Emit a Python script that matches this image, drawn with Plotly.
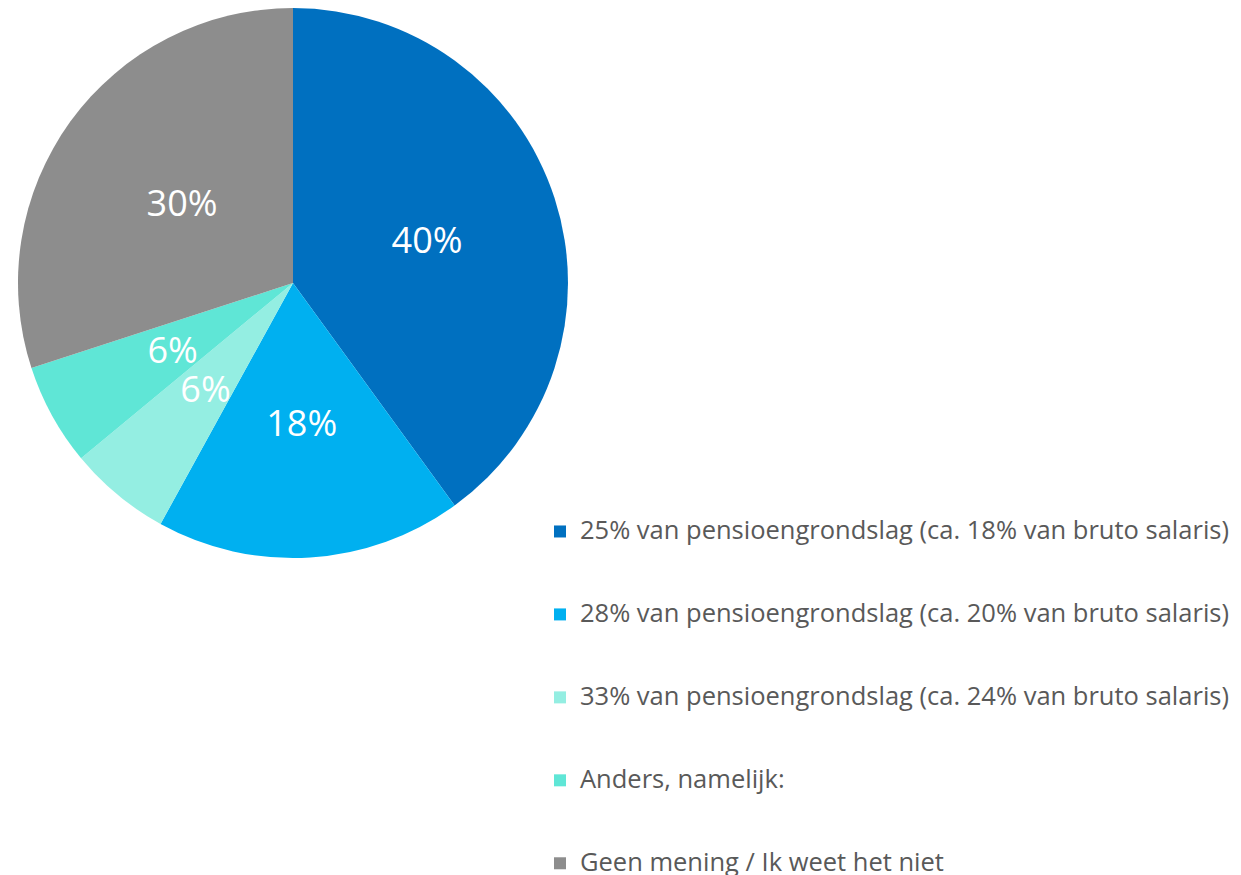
import plotly.graph_objects as go

labels = [
    "25% van pensioengrondslag (ca. 18% van bruto salaris)",
    "28% van pensioengrondslag (ca. 20% van bruto salaris)",
    "33% van pensioengrondslag (ca. 24% van bruto salaris)",
    "Anders, namelijk:",
    "Geen mening / Ik weet het niet",
]
values = [40, 18, 6, 6, 30]
colors = ["#0070C0", "#00B0F0", "#94EEE2", "#5FE6D6", "#8D8D8D"]

# which pie layer carries each slice's percentage label (0 = the coloured pie)
label_layer = [0, 2, 1, 1, 3]

# pad legend entries with blank lines so entries are spaced like the original
legend_labels = [
    "&nbsp;<br><span style='font-size:25.5px'>" + l + "</span><br>&nbsp;" for l in labels
]

W, H = 1241, 875
cx, cy = 285, 275
radii = [275, 163, 214, 248]  # coloured pie, then label-only pies


def dom(r):
    return dict(x=[(cx - r) / W, (cx + r) / W], y=[1 - (cy + r) / H, 1 - (cy - r) / H])


fig = go.Figure()
for layer, r in enumerate(radii):
    tt = ["%{percent:.0%}" if label_layer[i] == layer else "" for i in range(len(values))]
    main = layer == 0
    fig.add_trace(
        go.Pie(
            labels=legend_labels,
            values=values,
            marker=dict(colors=colors if main else ["rgba(0,0,0,0)"] * len(values), line=dict(width=0)),
            sort=False,
            direction="clockwise",
            rotation=0,
            texttemplate=tt,
            textposition="inside",
            insidetextorientation="horizontal",
            textfont=dict(color="white", size=36, family="Open Sans"),
            hoverinfo="label+percent" if main else "skip",
            showlegend=main,
            domain=dom(r),
        )
    )

fig.update_layout(
    width=W,
    height=H,
    margin=dict(l=0, r=0, t=0, b=0, autoexpand=False),
    paper_bgcolor="white",
    plot_bgcolor="white",
    uniformtext=dict(minsize=36, mode="show"),
    legend=dict(
        x=532 / W,
        y=1 - 477 / H,
        xanchor="left",
        yanchor="top",
        font=dict(family="Open Sans", size=20.5, color="#595959"),
        bgcolor="rgba(0,0,0,0)",
        itemclick=False,
    ),
)

fig.write_html("out.html")
